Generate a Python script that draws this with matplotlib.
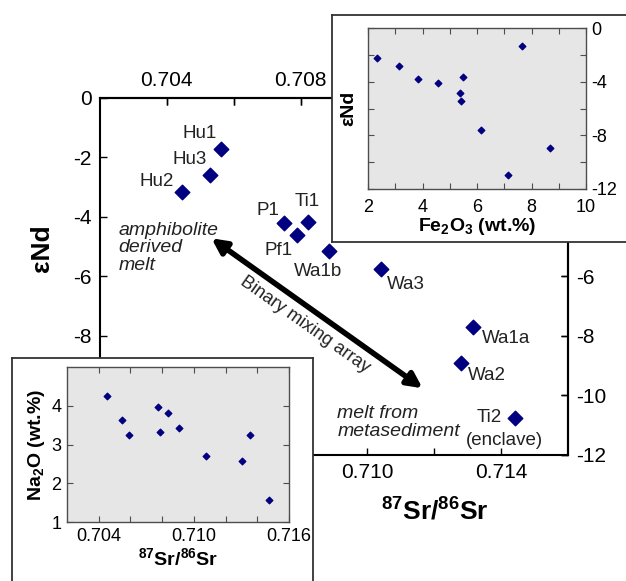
import matplotlib.pyplot as plt
import numpy as np

plt.rcParams['font.family'] = ['Liberation Sans', 'DejaVu Sans']
plt.rcParams['mathtext.fontset'] = 'custom'
plt.rcParams['mathtext.rm'] = 'Liberation Sans'
plt.rcParams['mathtext.bf'] = 'Liberation Sans:bold'
plt.rcParams['axes.unicode_minus'] = False

# main plot: 87Sr/86Sr vs eNd
samples = ['Hu1', 'Hu3', 'Hu2', 'P1', 'Pf1', 'Ti1', 'Wa1b', 'Wa3', 'Wa1a', 'Wa2', 'Ti2']
sr_ratio = [0.70563, 0.70530, 0.70444, 0.70752, 0.70790, 0.70822,
            0.70885, 0.71040, 0.71316, 0.71279, 0.71443]
eps_nd = [-1.72, -2.59, -3.17, -4.19, -4.61, -4.16, -5.13, -5.74, -7.71, -8.90, -10.75]

# inset 1: Fe2O3 vs eNd
fe2o3 = [2.34, 3.13, 3.85, 4.58, 5.49, 5.38, 5.40, 6.15, 7.65, 7.14, 8.67]
eps_nd_fe = [-2.26, -2.86, -3.78, -4.07, -3.68, -4.84, -5.41, -7.63, -1.32, -10.98, -8.97]

# inset 2: 87Sr/86Sr vs Na2O
sr_na = [0.70454, 0.70548, 0.70590, 0.70771, 0.70789, 0.70838, 0.70904,
         0.71079, 0.71302, 0.71356, 0.71471]
na2o = [4.26, 3.62, 3.25, 3.96, 3.33, 3.81, 3.43, 2.70, 2.57, 3.25, 1.57]

# label offsets (pixels) and alignment for each sample
label_pos = {
    'Hu1': (-5, 16, 'right'), 'Hu3': (-4, 16, 'right'), 'Hu2': (-8, 11, 'right'),
    'P1': (-5, 12, 'right'), 'Pf1': (-5, -15, 'right'), 'Ti1': (-1, 20, 'center'),
    'Wa1b': (-11, -21, 'center'), 'Wa3': (6, -16, 'left'), 'Wa1a': (9, -11, 'left'),
    'Wa2': (7, -13, 'left'), 'Ti2': (-14, 0, 'right'),
}

navy = '#000080'
fig = plt.figure(figsize=(6.26, 5.81), dpi=100)

ax = fig.add_axes([0.1597, 0.2169, 0.7476, 0.6145], zorder=1)
ax.scatter(sr_ratio, eps_nd, marker='D', s=55, color=navy, zorder=3)
for name, x, y in zip(samples, sr_ratio, eps_nd):
    dx, dy, ha = label_pos[name]
    ax.annotate(name, (x, y), xytext=(dx, dy), textcoords='offset pixels',
                ha=ha, va='center', fontsize=13.5, color='#222222')
ax.set_xlim(0.702, 0.716)
ax.set_ylim(-12, 0)
xt = np.arange(0.704, 0.7145, 0.002)
yt = np.arange(-12, 0.5, 2)
ax.set_xticks(xt)
ax.set_xticklabels(['', '', '', '0.710', '', '0.714'])
ax.set_yticks(yt)
ax.set_yticklabels(['', '', '-8', '-6', '-4', '-2', '0'])
ax.tick_params(direction='in', length=5, width=1, labelsize=15, pad=6,
               top=True, right=True)
for s in ax.spines.values():
    s.set_linewidth(1.5)

# the insets hide part of each axis, so each side gets its own labels
sec = ax.secondary_xaxis('top')
sec.set_xticks(xt)
sec.set_xticklabels(['0.704', '', '0.708', '', '', ''])
sec.tick_params(direction='in', length=5, width=1, labelsize=15, pad=6)
sec.spines['top'].set_linewidth(1.5)
secy = ax.secondary_yaxis('right')
secy.set_yticks(yt)
secy.set_yticklabels(['-12', '-10', '-8', '-6', '', '', ''])
secy.tick_params(direction='in', length=5, width=1, labelsize=15, pad=6)
secy.spines['right'].set_linewidth(1.5)

ax.annotate('', xy=(0.711651, -9.758), xytext=(0.705334, -4.716),
            arrowprops=dict(arrowstyle='<|-|>', lw=4, color='black',
                            mutation_scale=22, shrinkA=0, shrinkB=0))
ax.text(0.70812, -7.63, 'Binary mixing array', rotation=-35.3, rotation_mode='anchor',
        ha='center', va='center', fontsize=13, color='#222222')
ax.text(0.702546, -5.04, 'amphibolite\nderived\nmelt', style='italic', fontsize=14,
        ha='left', va='center', linespacing=1.05, color='#222222')
ax.text(0.709104, -10.91, 'melt from\nmetasediment', style='italic', fontsize=14,
        ha='left', va='center', linespacing=1.05, color='#222222')
ax.text(0.71296, -11.50, '(enclave)', fontsize=13.5, ha='left', va='center', color='#222222')

fig.text(0.067, 0.573, 'εNd', rotation=90, fontsize=19, fontweight='bold',
         ha='center', va='center')
fig.text(0.695, 0.120, r'$\mathbf{^{87}Sr/^{86}Sr}$', fontsize=19,
         ha='center', va='center')


def box(rect):
    b = fig.add_axes(rect, zorder=2)
    b.set_xticks([])
    b.set_yticks([])
    for s in b.spines.values():
        s.set_linewidth(1.3)
        s.set_color('0.2')
    return b


def style_inset(a):
    a.set_facecolor('#e6e6e6')
    for s in a.spines.values():
        s.set_color('0.3')
        s.set_linewidth(1)
    a.tick_params(which='both', direction='in', length=4, width=0.8,
                  color='0.3', top=True, right=True, labelsize=13, pad=4)


# upper right inset
box([0.5304, 0.5835, 0.48, 0.3907])
ax1 = fig.add_axes([0.5879, 0.6747, 0.3482, 0.2771], zorder=3)
style_inset(ax1)
ax1.scatter(fe2o3, eps_nd_fe, marker='D', s=11, color=navy, zorder=3)
ax1.set_xlim(2, 10)
ax1.set_ylim(-12, 0)
ax1.set_xticks(range(2, 11))
ax1.set_xticklabels(['2', '', '4', '', '6', '', '8', '', '10'])
ax1.set_yticks(range(-12, 1, 2))
ax1.set_yticklabels(['-12', '', '-8', '', '-4', '', '0'])
ax1.tick_params(labelleft=False, labelright=True)
ax1.tick_params(axis='x', pad=7)
ax1.set_xlabel(r'$\mathbf{Fe_2O_3}$ (wt.%)', fontsize=14, fontweight='bold', labelpad=0)
ax1.set_ylabel('εNd', fontsize=14, fontweight='bold', labelpad=8)

# lower left inset
box([0.0192, -0.02, 0.4808, 0.4038])
ax2 = fig.add_axes([0.1070, 0.1015, 0.3546, 0.2668], zorder=3)
style_inset(ax2)
ax2.scatter(sr_na, na2o, marker='D', s=11, color=navy, zorder=3)
ax2.set_xlim(0.702, 0.716)
ax2.set_ylim(1, 5)
ax2.set_xticks(np.arange(0.704, 0.7165, 0.002))
ax2.set_xticklabels(['0.704', '', '', '0.710', '', '', '0.716'])
ax2.set_yticks([1, 2, 3, 4])
ax2.set_xlabel(r'$\mathbf{^{87}Sr/^{86}Sr}$', fontsize=14, labelpad=2)
ax2.set_ylabel(r'$\mathbf{Na_2O}$ (wt.%)', fontsize=14, fontweight='bold', labelpad=3)

fig.savefig('out.png', dpi=100)
